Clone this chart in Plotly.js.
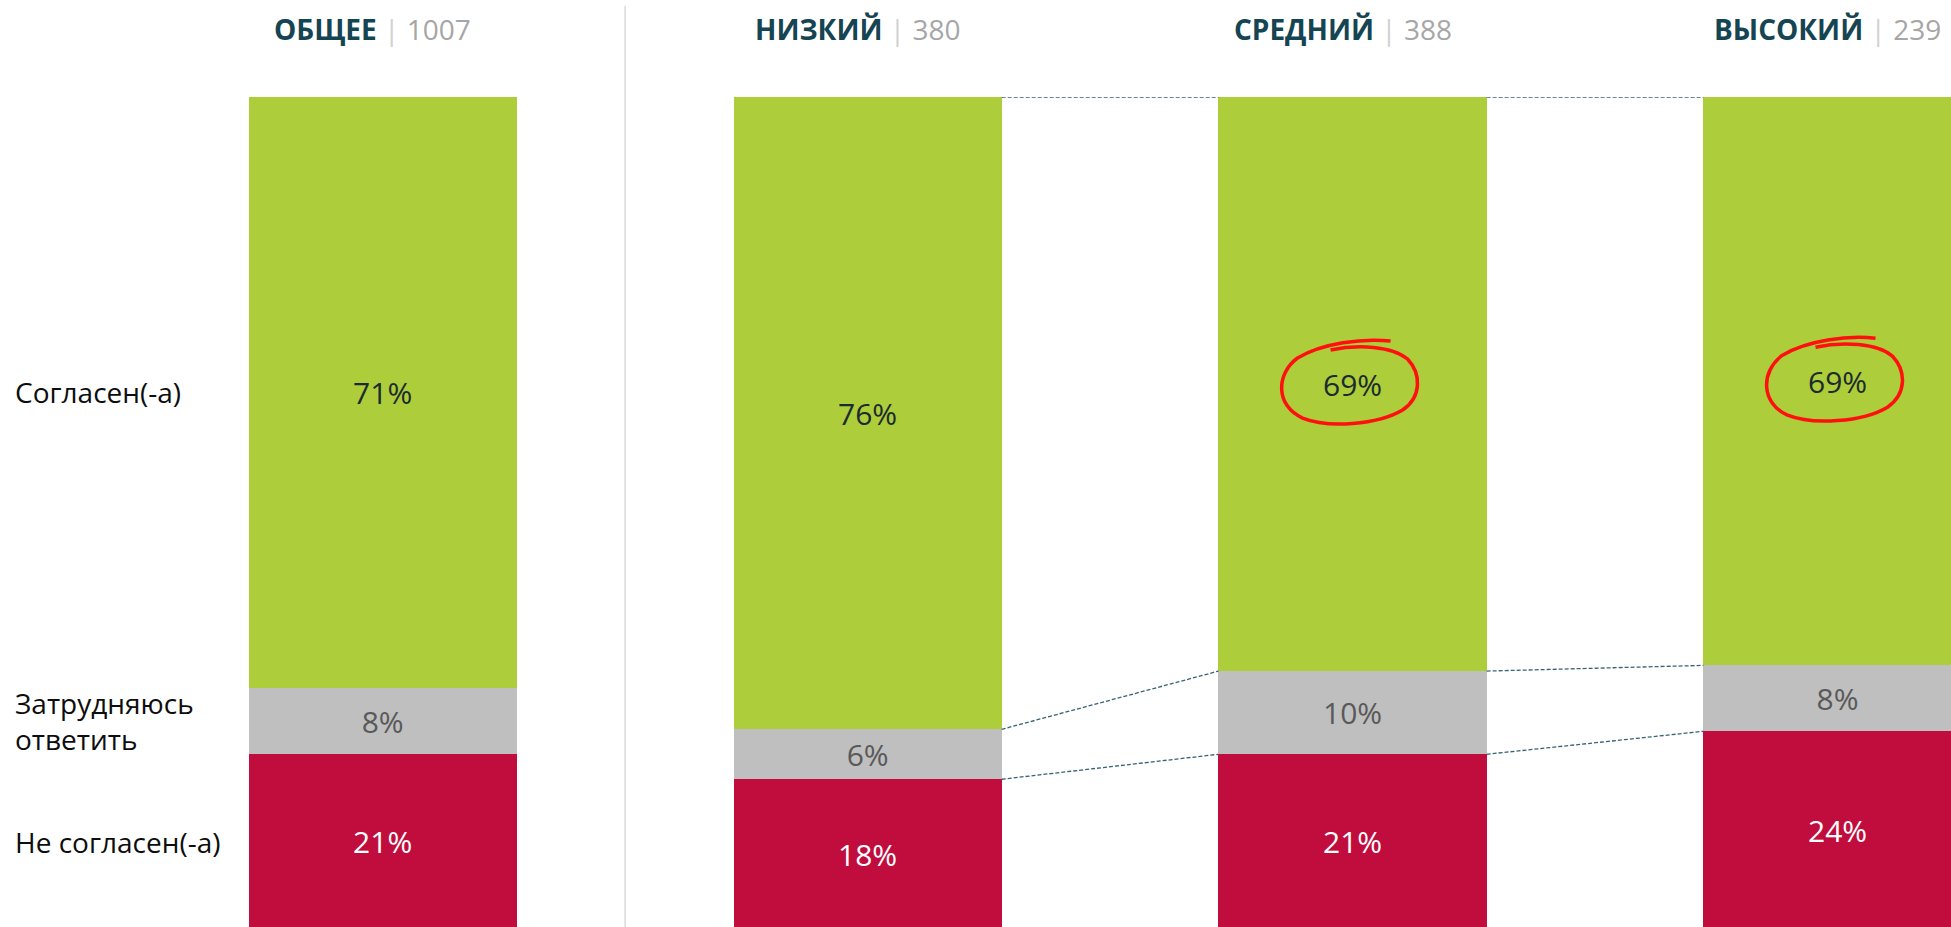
<!DOCTYPE html>
<html>
<head>
<meta charset="utf-8">
<script src="https://cdn.plot.ly/plotly-3.0.1.min.js"></script>
<style>html,body{margin:0;padding:0;background:#fff;}#chart{width:1951px;height:927px;}</style>
</head>
<body>
<div id="chart"></div>
<script>
const categories = ['ОБЩЕЕ', 'НИЗКИЙ', 'СРЕДНИЙ', 'ВЫСОКИЙ'];
const sampleSizes = [1007, 380, 388, 239];
const agree = [71, 76, 69, 69];
const unsure = [8, 6, 10, 8];
const disagree = [21, 18, 21, 24];
const rowLabels = ['Согласен(-а)', 'Затрудняюсь<br>ответить', 'Не согласен(-а)'];
const highlighted = ['СРЕДНИЙ', 'ВЫСОКИЙ'];

const FONT = 'Open Sans, Noto Sans, sans-serif';
const BAR_W = 0.553;
const COLORS = {agree: '#ADCD3B', unsure: '#BFBFBF', disagree: '#C00D3D'};

const totals = categories.map((c, i) => agree[i] + unsure[i] + disagree[i]);
const norm = (arr, i) => arr[i] / totals[i] * 100;

function barTrace(vals, color, textColor) {
  return {
    type: 'bar', x: categories, y: vals, width: BAR_W,
    marker: {color: color, line: {width: 0}},
    text: vals.map(v => v + '%'),
    textposition: 'inside', insidetextanchor: 'middle', textangle: 0,
    constraintext: 'none',
    textfont: {family: FONT, size: 30, color: textColor},
    hoverinfo: 'skip'
  };
}

const data = [
  barTrace(disagree, COLORS.disagree, '#ffffff'),
  barTrace(unsure, COLORS.unsure, '#595959'),
  barTrace(agree, COLORS.agree, '#1b2b2f')
];

const shapes = [];
// divider between total and groups
shapes.push({type: 'line', xref: 'x', yref: 'paper', x0: 0.5, x1: 0.5, y0: 0, y1: 1.11,
  line: {color: '#D9D9D9', width: 1.5}});

// dashed connectors between group bars
for (let i = 1; i < categories.length - 1; i++) {
  const b1 = [norm(disagree, i), norm(disagree, i) + norm(unsure, i), 100];
  const b2 = [norm(disagree, i + 1), norm(disagree, i + 1) + norm(unsure, i + 1), 100];
  for (let k = 0; k < 3; k++) {
    shapes.push({type: 'line', xref: 'x', yref: 'y',
      x0: i + BAR_W / 2, x1: i + 1 - BAR_W / 2, y0: b1[k], y1: b2[k],
      line: {color: '#3A6272', width: 1.3, dash: '4px,2px'}});
  }
}

// red hand-drawn ellipses around highlighted values
highlighted.forEach(cat => {
  const i = categories.indexOf(cat);
  const mid = norm(disagree, i) + norm(unsure, i) + norm(agree, i) / 2;
  shapes.push({type: 'path', xref: 'x', yref: 'y', xsizemode: 'pixel', ysizemode: 'pixel',
    xanchor: i, yanchor: mid,
    path: 'M 38 43 C 10 46, -30 41, -55 26 C -77 10, -77 -22, -50 -34 C -25 -44, 25 -41, 50 -26 C 69 -13, 69 10, 55 25 C 40 38, 5 40, -22 34',
    line: {color: '#FF1010', width: 3.5}});
});

const annotations = [];
// column titles
categories.forEach((c, i) => {
  annotations.push({xref: 'x', yref: 'paper', x: i, y: 1.082, xshift: -10,
    text: '<b>' + c + '</b> <span style="color:#D0D0D0">|</span> <span style="color:#A6A6A6">' + sampleSizes[i] + '</span>',
    showarrow: false, xanchor: 'center', yanchor: 'middle',
    font: {family: FONT, size: 28, color: '#154452'}});
});
// row labels aligned with the total bar segments
const rowMids = [
  norm(disagree, 0) + norm(unsure, 0) + norm(agree, 0) / 2,
  norm(disagree, 0) + norm(unsure, 0) / 2,
  norm(disagree, 0) / 2
];
rowLabels.forEach((t, k) => {
  annotations.push({xref: 'paper', yref: 'y', x: 13 / 1951, y: rowMids[k],
    text: t, showarrow: false, xanchor: 'left', yanchor: 'middle', align: 'left',
    font: {family: FONT, size: 28, color: '#0d0d0d'}});
});

const layout = {
  width: 1951, height: 927,
  margin: {l: 0, r: 0, t: 97, b: 0, pad: 0},
  paper_bgcolor: '#ffffff', plot_bgcolor: '#ffffff',
  barmode: 'stack', barnorm: 'percent',
  showlegend: false, hovermode: false,
  xaxis: {type: 'category', range: [-0.789, 3.234], visible: false, fixedrange: true},
  yaxis: {range: [0.24, 100], visible: false, fixedrange: true},
  shapes: shapes, annotations: annotations
};

Plotly.newPlot('chart', data, layout, {displayModeBar: false, staticPlot: true});
</script>
</body>
</html>
